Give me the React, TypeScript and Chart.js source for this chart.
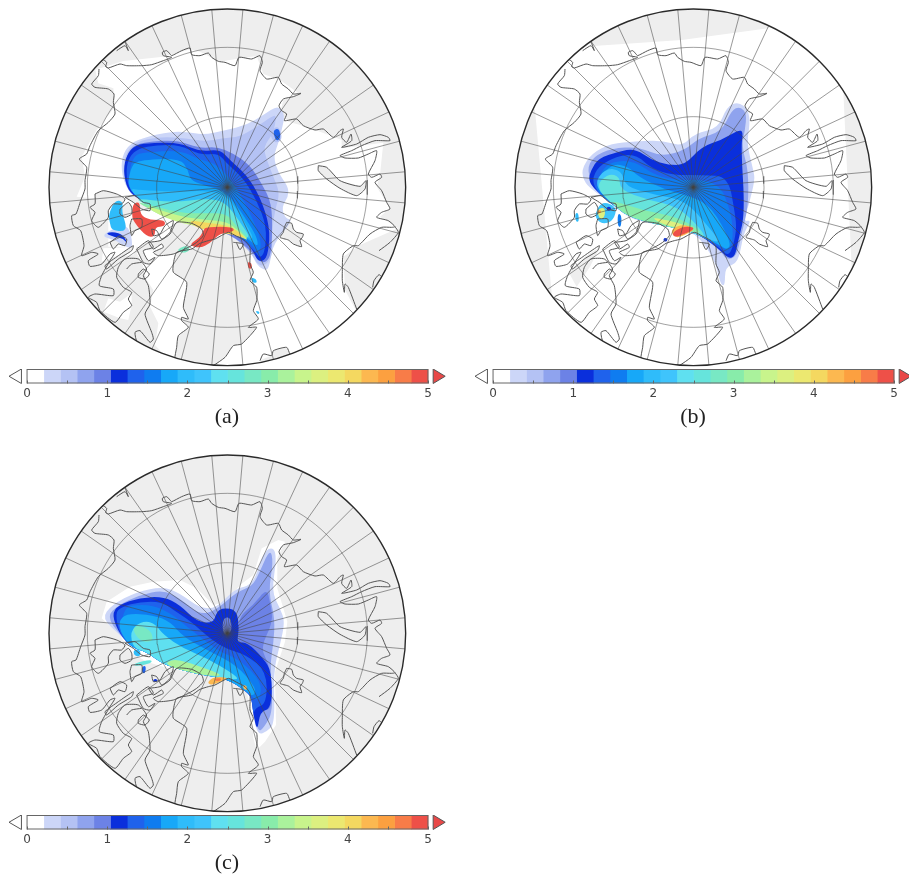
import React, { useEffect, useRef } from "react";
import { Chart, registerables } from "chart.js";

Chart.register(...registerables);

type P = number[];

// ---------- colour bar ----------
const CBAR_COLORS = ["#ffffff","#ccd6f8","#b4c2f4","#8fa3ee","#6c82e6","#0a2fdc","#1f62ec","#0f7cf0","#17a8f8","#2fbcfa","#3fc4fc","#5fe0f0","#66e4dc","#78e8c4","#88ecaa","#aaf29c","#c8f48c","#dcf080","#ece870","#f4d860","#fcb850","#fca040","#f87c48","#ee5048"];
const CBAR_LABELS = [0, 1, 2, 3, 4, 5];
const CBAR_MINOR = [0, 0.5, 1, 1.5, 2, 2.5, 3, 3.5, 4, 4.5, 5];

// ---------- graticule ----------
const MERIDIANS = [5,15,25,35,45,55,65,75,85,95,105,115,125,135,145,155,165,175,185,195,205,215,225,235,245,255,265,275,285,295,305,315,325,335,345,355];
const PARALLEL_RADII = [212, 420];

// ---------- coastlines (map units, pole at 562,565) ----------
const SIBERIA: P[] = [[187,180],[200,190],[197,203],[205,207],[240,195],[260,200],[305,200],[335,197],[370,185],[395,175],[370,170],[367,160],[380,155],[390,165],[395,170],[425,155],[450,147],[455,167],[480,170],[505,162],[515,175],[535,187],[555,190],[585,200],[597,175],[635,180],[660,170],[667,190],[660,215],[680,240],[715,235],[725,255],[745,270],[760,285],[783,283],[760,293],[730,300],[717,320],[725,335],[740,345],[733,365],[770,360],[790,380],[825,393],[850,390],[880,415],[900,395],[910,390],[905,415],[920,430],[933,405],[935,425],[905,445],[950,435],[985,415],[1020,407],[1045,415],[1050,425],[1005,425],[965,440],[935,455],[900,470],[915,477],[955,477],[985,465],[1010,455],[1005,485],[985,525],[995,535],[1020,525],[1025,535],[1005,550],[1025,575],[1040,610],[1050,630],[1025,640],[1010,655],[1045,665],[1065,683],[1055,685],[1025,685],[990,705],[955,740],[940,740],[910,765],[907,817],[907,845],[913,880],[915,855],[925,865],[950,930]];
const CHUKOTKA: P[] = [[230,155],[255,140],[265,155],[255,128]];
const WHITE_SEA: P[] = [[1065,683],[1075,700],[1050,730],[1017,755]];
const KOLA: P[] = [[998,865],[1002,845],[1017,827],[1027,835]];
const NORWAY: P[] = [[660,1085],[670,1065],[695,1070],[700,1055],[740,1045],[750,1065],[765,1075]];
const NOVAYA: P[] = [[835,500],[860,505],[900,545],[960,562],[978,545],[975,570],[950,590],[900,568],[860,540],[835,515],[835,500]];
const SVALBARD: P[] = [[740,670],[755,673],[760,690],[770,700],[790,705],[787,715],[780,725],[785,743],[760,735],[745,723],[720,715],[730,700],[733,685],[740,670]];
const GREENLAND: P[] = [[520,1100],[555,1075],[580,1040],[605,1035],[650,985],[625,985],[655,960],[640,935],[650,905],[650,865],[630,845],[640,820],[630,795],[630,745],[615,725],[590,712],[565,700],[525,720],[505,725],[480,733],[455,750],[410,760],[400,795],[400,820],[440,850],[430,925],[445,960],[425,955],[425,965],[445,985],[415,1010],[410,1045],[405,1080],[425,1100]];
const GREEN_FJORD: P[] = [[580,730],[610,735],[600,752],[590,733]];
const ELLESMERE: P[] = [[325,730],[360,725],[390,705],[410,670],[455,673],[485,690],[490,710],[470,730],[445,745],[400,765],[355,770],[340,760],[370,745],[365,735],[340,750],[325,730]];
const ELLES_FJORD: P[] = [[335,690],[350,695],[365,720],[390,700],[400,665],[375,680],[360,705],[340,710],[335,690]];
const NORTH_AMERICA: P[] = [[177,210],[175,230],[155,255],[165,265],[205,270],[222,285],[220,310],[225,345],[205,370],[175,395],[150,440],[140,465],[118,480],[140,505],[135,545],[135,570],[122,605],[108,645],[95,650],[100,680],[122,695],[132,740],[125,770],[155,760],[175,765],[145,785],[150,802],[185,795],[210,765],[225,760],[210,785],[185,830],[178,860],[220,870],[220,890],[165,885],[145,895],[170,910],[180,935],[225,970],[250,940],[275,920],[265,900],[275,880],[250,865],[230,835],[235,805],[255,780],[295,780],[320,810],[310,830],[325,860],[330,915],[315,945],[335,1000],[340,1020],[330,1030],[300,995],[285,1000],[292,1030],[340,1060]];
const ARC_BAY: P[] = [[260,810],[275,795],[305,790]];
const FOXE: P[] = [[295,825],[310,810],[328,825],[315,840],[295,835],[295,825]];
const BANKS: P[] = [[165,585],[190,575],[230,585],[255,600],[245,615],[220,615],[205,635],[205,655],[175,685],[155,665],[165,640],[150,625],[165,615],[165,585]];
const VICTORIA: P[] = [[240,630],[265,610],[275,625],[275,645],[255,655],[240,645],[240,630]];
const MELVILLE: P[] = [[255,595],[285,590],[310,610],[330,615],[330,635],[305,630],[280,610],[255,595]];
const WALES: P[] = [[275,660],[305,660],[305,685],[285,695],[275,710],[270,680],[275,660]];
const SOMERSET: P[] = [[210,730],[240,710],[260,720],[255,740],[235,735],[220,750],[210,730]];
const DEVON: P[] = [[290,750],[325,725],[340,745],[310,755],[325,785],[345,775],[330,795],[310,790],[290,750]];
const SOUTHAMPTON: P[] = [[235,770],[280,740],[275,755],[235,780],[200,810],[195,800],[235,770]];
const COAST_LINES = [SIBERIA, CHUKOTKA, WHITE_SEA, KOLA, NORWAY, NOVAYA, SVALBARD, GREENLAND, GREEN_FJORD, ELLESMERE, ELLES_FJORD, NORTH_AMERICA, ARC_BAY, FOXE, BANKS, VICTORIA, MELVILLE, WALES, SOMERSET, DEVON, SOUTHAMPTON];
const ISLANDS = [SVALBARD, NOVAYA, GREENLAND, ELLESMERE, BANKS, VICTORIA, MELVILLE, WALES, SOMERSET, DEVON, SOUTHAMPTON];

// ---------- data masks (where the field is defined) ----------
const A_OPEN: P[] = [[100,215],[165,210],[195,200],[250,183],[370,170],[450,148],[480,155],[540,185],[600,175],[650,168],[670,222],[720,240],[780,283],[730,300],[720,340],[745,365],[800,380],[880,410],[905,420],[905,445],[1000,432],[1030,428],[1020,525],[1010,560],[1050,625],[1020,650],[1075,685],[1040,700],[960,735],[910,770],[915,870],[950,935],[1000,1130],[0,1130],[0,215]];
const A_CLOSED_WEST: P[] = [[0,200],[165,205],[175,250],[220,265],[225,320],[170,390],[125,470],[135,530],[110,590],[205,600],[205,740],[290,740],[420,760],[400,1130],[0,1140]];
const A_OPEN_BAFFIN: P[] = [[315,750],[415,755],[400,800],[435,845],[420,955],[415,980],[420,1040],[405,1100],[345,1035],[355,970],[330,920],[340,870],[320,840],[305,785],[290,760]];
const A_OPEN_HUDSON: P[] = [[190,935],[240,955],[265,960],[275,915],[275,880],[240,905],[205,895]];
const A_OPEN_STRAIT: P[] = [[190,745],[290,740],[280,765],[225,770],[185,785]];
const A_CLOSED_NORWAY: P[] = [[660,1110],[662,1080],[692,1068],[700,1052],[740,1042],[750,1062],[765,1075],[720,1110]];
const B_OPEN: P[] = [[60,290],[250,125],[265,138],[530,120],[790,85],[840,60],[1060,260],[1015,275],[1020,380],[1040,800],[1100,800],[900,1200],[100,1150],[140,880],[90,330]];
const B_CLOSED_1: P[] = [[190,815],[240,770],[285,740],[255,800],[215,860]];
const C_HALO: P[] = [[185,520],[200,470],[270,425],[340,410],[420,405],[470,430],[520,480],[560,470],[600,420],[640,390],[665,310],[715,285],[735,290],[712,340],[712,430],[742,530],[735,590],[705,680],[708,840],[675,890],[650,915],[640,880],[635,800],[620,740],[560,700],[480,690],[370,665],[320,650],[270,620],[240,570]];

// ---------- thickness field, panel (a): level per contour, filled low to high ----------
const A_LEVELS = [0.3,0.5,0.9,1.1,1.3,1.5,1.7,2.0,2.5,3.0,3.5,4.1,4.9,4.9,2.8,0.3,1.9,1.1,0.5,1.3,4.9,1.9,1.9];
const A_CONTOURS: P[][] = [
 [[245,470],[270,430],[320,410],[390,395],[440,395],[490,405],[560,390],[620,375],[670,345],[715,315],[735,345],[725,390],[715,430],[700,470],[715,520],[745,560],[745,590],[725,620],[735,655],[760,660],[700,730],[690,790],[680,815],[650,795],[635,760],[570,700],[480,680],[380,650],[300,600],[265,575],[245,525]],
 [[255,465],[285,425],[360,410],[440,415],[495,425],[545,415],[600,410],[650,380],[695,350],[710,345],[700,400],[670,440],[680,480],[700,530],[720,580],[705,630],[695,700],[698,770],[670,800],[650,790],[635,760],[570,700],[480,680],[380,650],[300,600],[265,575],[248,520]],
 [[260,465],[282,435],[330,425],[410,420],[480,445],[530,440],[580,460],[630,495],[665,550],[695,610],[697,700],[692,775],[665,792],[640,760],[570,700],[480,680],[380,650],[300,600],[265,575],[250,520]],
 [[250,510],[260,465],[285,435],[340,428],[420,428],[480,455],[540,448],[570,480],[620,525],[660,590],[690,680],[685,760],[670,785],[650,780],[640,750],[590,700],[480,680],[380,650],[300,600],[262,570]],
 [[258,510],[268,470],[295,445],[350,435],[420,435],[480,465],[535,460],[560,490],[610,535],[650,600],[680,680],[675,755],[660,775],[645,755],[590,700],[480,680],[380,650],[300,600],[265,565]],
 [[268,505],[285,465],[310,458],[420,450],[480,480],[530,490],[590,560],[650,680],[665,735],[655,760],[640,740],[590,700],[480,680],[380,650],[300,600],[268,565]],
 [[262,560],[272,505],[290,480],[420,475],[445,510],[450,540],[490,555],[560,575],[620,660],[650,710],[655,740],[635,725],[590,695],[480,680],[380,650],[300,600]],
 [[268,565],[300,570],[400,575],[510,572],[565,590],[610,660],[640,710],[632,720],[590,695],[480,680],[380,650],[300,600]],
 [[290,595],[400,608],[500,595],[555,605],[600,665],[635,720],[590,695],[480,680],[380,650],[300,605]],
 [[295,605],[420,640],[500,640],[560,640],[590,680],[632,722],[590,700],[480,680],[380,655],[300,612]],
 [[300,610],[420,650],[500,660],[560,665],[600,695],[630,725],[590,703],[480,682],[380,658]],
 [[440,660],[500,668],[575,678],[625,722],[590,705],[480,690]],
 [[500,680],[580,680],[582,695],[540,700],[510,730],[480,745],[445,735],[480,712],[490,690]],
 [[280,610],[300,605],[300,645],[330,660],[375,660],[375,680],[345,680],[345,710],[320,710],[280,665],[275,640]],
 [[408,750],[440,735],[452,750],[430,760]],
 [[185,710],[210,690],[265,670],[280,740],[265,745],[225,720]],
 [[205,645],[225,600],[250,605],[245,635],[260,680],[250,695],[215,690],[210,670]],
 [[195,700],[220,695],[250,705],[265,735],[250,715],[225,712]],
 [[690,395],[715,375],[728,415],[712,430],[695,420]],
 [[698,390],[718,385],[722,415],[708,425]],
 [[623,785],[635,788],[636,806],[625,806]],
 [[633,832],[650,838],[650,850],[636,846]],
 [[645,932],[660,935],[655,945]],
];

// ---------- panel (b) ----------
const B_LEVELS = [0.3,0.7,1.1,1.3,1.5,1.8,2.2,2.6,3.1,3.7,4.3,4.9,2.2,3.6,4.5,1.1,1.9,1.5,1.1];
const B_CONTOURS: P[][] = [
 [[228,510],[260,460],[320,430],[390,425],[470,420],[530,440],[570,400],[640,385],[665,320],[700,305],[730,330],[735,370],[725,430],[745,510],[750,540],[730,620],[715,665],[740,660],[715,700],[700,790],[660,800],[660,860],[645,850],[630,780],[570,695],[490,680],[380,660],[330,620],[270,575],[240,550]],
 [[245,510],[265,470],[320,445],[400,440],[470,470],[540,450],[580,415],[650,395],[680,330],[705,320],[725,340],[720,390],[710,440],[730,510],[730,620],[710,700],[695,770],[665,780],[645,750],[570,695],[490,680],[380,655],[330,620],[270,570]],
 [[250,540],[258,510],[280,475],[340,455],[390,445],[440,480],[490,495],[540,495],[590,440],[650,420],[700,390],[715,395],[708,440],[720,640],[700,720],[690,770],[670,775],[645,750],[600,715],[560,695],[490,680],[380,655],[330,620],[270,570]],
 [[262,530],[290,490],[350,465],[395,465],[440,505],[500,525],[595,525],[670,530],[690,640],[695,690],[680,755],[665,765],[645,745],[600,715],[560,695],[490,680],[380,655],[330,620],[270,570]],
 [[280,540],[300,495],[350,480],[400,490],[440,520],[500,540],[640,540],[680,640],[685,720],[670,755],[650,740],[600,715],[560,695],[490,680],[380,655],[330,620],[270,570]],
 [[270,550],[320,490],[370,500],[400,530],[480,570],[560,590],[620,620],[680,730],[665,750],[645,735],[600,715],[560,695],[490,680],[380,655],[330,620]],
 [[265,555],[300,505],[350,510],[360,560],[450,585],[540,600],[610,680],[650,730],[600,715],[560,695],[490,680],[380,655],[330,620]],
 [[270,560],[310,520],[345,530],[345,570],[430,600],[520,620],[590,690],[600,715],[560,695],[490,680],[380,655],[330,620]],
 [[320,600],[410,630],[510,650],[570,680],[590,700],[560,695],[490,680],[380,655],[330,620]],
 [[430,650],[510,665],[565,685],[490,680]],
 [[495,690],[530,672],[575,685],[540,705],[510,715]],
 [[500,700],[530,680],[565,680],[565,690],[530,705],[510,712]],
 [[270,640],[290,605],[325,615],[335,635],[320,665],[295,672],[275,660]],
 [[275,630],[300,620],[300,650],[285,660]],
 [[275,632],[288,630],[288,640],[278,640]],
 [[305,620],[318,620],[318,632],[305,632]],
 [[210,640],[220,638],[222,665],[212,665]],
 [[338,640],[350,645],[348,682],[338,678]],
 [[478,712],[490,718],[482,726],[474,722]],
];

// ---------- panel (c) ----------
const C_LEVELS = [0.3,0.7,0.9,1.1,1.3,1.5,1.8,2.4,2.8,3.2,4.2,4.7,4.2,1.9,2.5,1.3,1.1,0.9];
const C_CONTOURS: P[][] = [
 [[185,520],[215,480],[290,440],[370,425],[420,445],[480,490],[530,490],[585,430],[640,420],[670,320],[700,305],[710,340],[695,440],[720,490],[735,530],[720,600],[700,680],[705,835],[680,860],[655,870],[640,820],[635,760],[620,740],[560,700],[480,690],[370,660],[320,620],[280,610],[240,570]],
 [[200,515],[235,480],[300,450],[370,435],[420,460],[480,510],[530,495],[590,440],[635,425],[655,390],[690,310],[700,350],[685,440],[705,520],[700,600],[690,660],[700,800],[670,850],[655,860],[640,810],[635,760],[620,740],[560,700],[480,690],[370,660],[320,620],[280,610],[240,570]],
 [[590,520],[640,480],[680,430],[690,470],[700,530],[660,610],[690,660],[700,790],[660,800],[600,650]],
 [[215,510],[235,480],[300,458],[370,455],[420,480],[470,530],[520,535],[530,500],[550,488],[590,495],[598,550],[590,595],[620,590],[670,640],[695,680],[695,790],[660,800],[652,860],[640,810],[635,760],[620,740],[560,700],[480,690],[370,660],[320,620],[280,610],[240,570]],
 [[225,505],[245,485],[300,470],[365,470],[400,495],[440,520],[470,545],[515,585],[560,612],[620,630],[680,680],[680,775],[645,790],[640,810],[635,760],[620,740],[560,700],[480,690],[370,660],[320,620],[280,610],[240,570]],
 [[250,500],[270,480],[340,480],[400,510],[440,545],[500,590],[540,620],[600,645],[665,710],[660,765],[640,760],[620,740],[560,700],[480,690],[370,660],[320,620],[280,610],[240,570]],
 [[235,530],[260,505],[340,510],[390,530],[430,575],[500,615],[590,660],[650,730],[640,755],[620,740],[560,700],[480,690],[370,660],[320,620],[280,610],[245,570]],
 [[270,560],[300,530],[340,530],[370,570],[430,610],[500,640],[570,680],[600,705],[560,700],[480,690],[370,660],[320,620],[280,610]],
 [[275,550],[300,540],[335,560],[340,590],[300,590]],
 [[400,640],[470,660],[560,695],[480,690],[370,660]],
 [[500,715],[520,695],[570,698],[540,710],[520,720]],
 [[525,700],[545,700],[540,708],[525,708]],
 [[608,720],[620,722],[622,735],[612,733]],
 [[280,615],[300,612],[302,635],[282,632]],
 [[282,655],[335,643],[335,655],[285,665]],
 [[305,665],[318,662],[316,685],[306,684]],
 [[340,702],[352,702],[352,711],[340,711]],
 [[548,520],[572,515],[576,558],[560,570],[548,562]],
];

const LAND = "#eeeeee";
const colorOf = (v: number) => CBAR_COLORS[Math.min(23, Math.floor((v / 5) * 24))];

const polyFill = {
  id: "polyFill",
  beforeDatasetDraw(chart: any, args: any) {
    const ds = chart.data.datasets[args.index];
    if (!ds.polyColor) return;
    const pts = args.meta.data;
    const ctx = chart.ctx;
    ctx.save();
    ctx.fillStyle = ds.polyColor;
    ctx.beginPath();
    if (ds.smooth) {
      const n = pts.length;
      const m = (a: any, b: any) => [(a.x + b.x) / 2, (a.y + b.y) / 2];
      const s = m(pts[n - 1], pts[0]);
      ctx.moveTo(s[0], s[1]);
      for (let i = 0; i < n; i++) {
        const e = m(pts[i], pts[(i + 1) % n]);
        ctx.quadraticCurveTo(pts[i].x, pts[i].y, e[0], e[1]);
      }
    } else {
      pts.forEach((p: any, i: number) => (i ? ctx.lineTo(p.x, p.y) : ctx.moveTo(p.x, p.y)));
    }
    ctx.closePath();
    ctx.fill();
    ctx.restore();
  },
};

const RIM = 535;
const discPlugin = {
  id: "disc",
  beforeDatasetsDraw(chart: any) {
    const o = chart.options.plugins.disc;
    const { x, y } = chart.scales;
    const cx = x.getPixelForValue(o.cx), cy = y.getPixelForValue(o.cy);
    const r = Math.abs(x.getPixelForValue(o.cx + RIM) - cx);
    const ctx = chart.ctx;
    ctx.save();
    ctx.beginPath();
    ctx.arc(cx, cy, r, 0, Math.PI * 2);
    ctx.clip();
    ctx.fillStyle = LAND;
    ctx.fill();
  },
  afterDatasetsDraw(chart: any) {
    const o = chart.options.plugins.disc;
    const { x, y } = chart.scales;
    const cx = x.getPixelForValue(o.cx), cy = y.getPixelForValue(o.cy);
    const r = Math.abs(x.getPixelForValue(o.cx + RIM) - cx);
    const ctx = chart.ctx;
    ctx.restore();
    ctx.beginPath();
    ctx.arc(cx, cy, r, 0, Math.PI * 2);
    ctx.strokeStyle = "#2a2a2a";
    ctx.lineWidth = 1.4;
    ctx.stroke();
  },
};

const toXY = (pts: P[], dx = 0, dy = 0) => pts.map(([x, y]) => ({ x: x + dx, y: y + dy }));
const fillDs = (pts: P[], color: string, smooth = false) => ({
  data: toXY(pts), polyColor: color, smooth, showLine: false, pointRadius: 0, clip: false,
});

function MapPanel({ left, top, cx, cy, masks, levels, contours }: any) {
  const ref = useRef<HTMLCanvasElement>(null);
  useEffect(() => {
    const dx = cx - 562, dy = cy - 565;
    const layers: any[] = [];
    masks.forEach((m: any) => layers.push(fillDs(m.pts, m.color)));
    levels.forEach((v: number, i: number) => layers.push(fillDs(contours[i], colorOf(v), true)));
    PARALLEL_RADII.forEach((r) => {
      const ring = [];
      for (let a = 0; a <= 360; a += 3) ring.push({ x: cx + r * Math.sin((a * Math.PI) / 180), y: cy - r * Math.cos((a * Math.PI) / 180) });
      layers.push({ data: ring, showLine: true, borderColor: "rgba(70,70,70,0.5)", borderWidth: 1, pointRadius: 0, clip: false });
    });
    MERIDIANS.forEach((m) => {
      const s = Math.sin((m * Math.PI) / 180), c = Math.cos((m * Math.PI) / 180);
      layers.push({ data: [{ x: cx, y: cy }, { x: cx + RIM * s, y: cy - RIM * c }], showLine: true, borderColor: "rgba(70,70,70,0.55)", borderWidth: 1, pointRadius: 0, clip: false });
    });
    COAST_LINES.forEach((l) => layers.push({ data: toXY(l, dx, dy), showLine: true, tension: 0.2, borderColor: "#555555", borderWidth: 1, pointRadius: 0, clip: false }));
    const chart = new Chart(ref.current as any, {
      type: "scatter",
      data: { datasets: layers.reverse() },
      options: {
        animation: false, responsive: false, events: [],
        layout: { padding: 0 },
        scales: {
          x: { type: "linear", min: 0, max: 1140, display: false },
          y: { type: "linear", min: 0, max: 1125, reverse: true, display: false },
        },
        plugins: { legend: { display: false }, tooltip: { enabled: false }, disc: { cx, cy } } as any,
      },
      plugins: [discPlugin, polyFill],
    } as any);
    return () => chart.destroy();
  }, []);
  return <canvas ref={ref} width={380} height={375} style={{ position: "absolute", left, top, width: 380, height: 375 }} />;
}

const cbarPlugin = {
  id: "cbarDecor",
  afterDatasetsDraw(chart: any) {
    const { x } = chart.scales;
    const ctx = chart.ctx;
    const y0 = chart.chartArea.top, y1 = chart.chartArea.bottom;
    const x0 = x.getPixelForValue(0), x1 = x.getPixelForValue(5);
    ctx.save();
    ctx.strokeStyle = "#666";
    ctx.lineWidth = 1;
    ctx.strokeRect(x0, y0 + 0.5, x1 - x0, y1 - y0 - 1);
    CBAR_MINOR.forEach((t) => {
      const px = Math.round(x.getPixelForValue(t)) + 0.5;
      ctx.beginPath(); ctx.moveTo(px, y1); ctx.lineTo(px, y1 - 3); ctx.stroke();
    });
    const mid = (y0 + y1) / 2;
    ctx.beginPath();
    ctx.moveTo(x.getPixelForValue(-0.225), mid);
    ctx.lineTo(x.getPixelForValue(-0.07), y0);
    ctx.lineTo(x.getPixelForValue(-0.07), y1);
    ctx.closePath();
    ctx.fillStyle = "#fff"; ctx.fill(); ctx.strokeStyle = "#555"; ctx.stroke();
    ctx.beginPath();
    ctx.moveTo(x.getPixelForValue(5.215), mid);
    ctx.lineTo(x.getPixelForValue(5.065), y0);
    ctx.lineTo(x.getPixelForValue(5.065), y1);
    ctx.closePath();
    ctx.fillStyle = "#e84848"; ctx.fill(); ctx.strokeStyle = "#555"; ctx.stroke();
    ctx.restore();
  },
};

function ColorBar({ left, top, caption }: any) {
  const ref = useRef<HTMLCanvasElement>(null);
  useEffect(() => {
    const chart = new Chart(ref.current as any, {
      type: "bar",
      data: {
        labels: [""],
        datasets: CBAR_COLORS.map((c) => ({ data: [5 / 24], backgroundColor: c, borderWidth: 0, barPercentage: 1, categoryPercentage: 1, stack: "s" })),
      },
      options: {
        indexAxis: "y", animation: false, responsive: false, events: [],
        layout: { padding: { bottom: 3 } },
        scales: {
          x: {
            type: "linear", min: -0.25, max: 5.25, stacked: true,
            afterBuildTicks: (s: any) => { s.ticks = CBAR_LABELS.map((v) => ({ value: v })); },
            grid: { display: false, drawTicks: false, tickLength: 0 }, border: { display: false },
            ticks: { font: { family: "DejaVu Sans", size: 12 }, color: "#444", padding: 3, maxRotation: 0, autoSkip: false, callback: (v: any) => String(v) },
          },
          y: { display: false, stacked: true },
        },
        plugins: { legend: { display: false }, tooltip: { enabled: false } },
      },
      plugins: [cbarPlugin],
    } as any);
    return () => chart.destroy();
  }, []);
  return (
    <>
      <canvas ref={ref} width={441} height={32} style={{ position: "absolute", left, top, width: 441, height: 32 }} />
      <div style={{ position: "absolute", left: left + 120, width: 200, top: top + 34, textAlign: "center", fontFamily: "'Liberation Serif', serif", fontSize: 22, color: "#222" }}>{caption}</div>
    </>
  );
}

export default function App() {
  const masksA = [
    { pts: A_OPEN, color: "#ffffff" },
    { pts: A_CLOSED_WEST, color: LAND },
    { pts: A_CLOSED_NORWAY, color: LAND },
    { pts: A_OPEN_BAFFIN, color: "#ffffff" },
    { pts: A_OPEN_HUDSON, color: "#ffffff" },
    { pts: A_OPEN_STRAIT, color: "#ffffff" },
    ...ISLANDS.map((p) => ({ pts: p.map(([x, y]) => [x, y - 3]), color: LAND })),
  ];
  const masksB = [
    { pts: B_OPEN, color: "#ffffff" },
    { pts: B_CLOSED_1, color: LAND },
  ];
  const masksC = [{ pts: C_HALO, color: "#ffffff" }];
  return (
    <div style={{ position: "fixed", left: 0, top: 0, width: 909, height: 874, overflow: "hidden", background: "#fff" }}>
      <MapPanel left={40} top={0} cx={562} cy={562} masks={masksA} levels={A_LEVELS} contours={A_CONTOURS} />
      <MapPanel left={505} top={0} cx={565} cy={562} masks={masksB} levels={B_LEVELS} contours={B_CONTOURS} />
      <MapPanel left={40} top={445} cx={562} cy={565} masks={masksC} levels={C_LEVELS} contours={C_CONTOURS} />
      <ColorBar left={7} top={369} caption="(a)" />
      <ColorBar left={473} top={369} caption="(b)" />
      <ColorBar left={7} top={815} caption="(c)" />
    </div>
  );
}
